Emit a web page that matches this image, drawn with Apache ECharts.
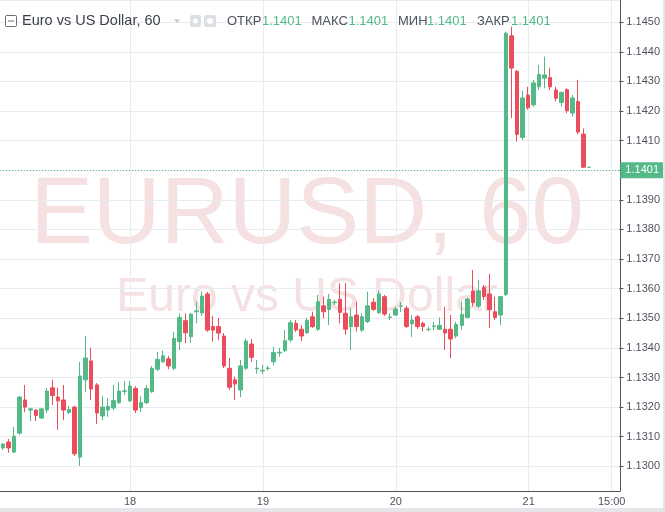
<!DOCTYPE html>
<html>
<head>
<meta charset="utf-8">
<script src="https://cdn.jsdelivr.net/npm/echarts@6/dist/echarts.min.js"></script>
<style>
    html, body { margin: 0; padding: 0; background: #e4e6ea; }
    #chart { position: absolute; left: 0; top: 0; width: 663px; height: 508px; background: #fff; }
</style>
</head>
<body>
<div id="chart"></div>
<script>
// hourly bars, first bar = 17 01:00
var openPx = [1.13062, 1.13082, 1.13048, 1.13112, 1.13224, 1.13190, 1.13190, 1.13163, 1.13190, 1.13265,
    1.13234, 1.13224, 1.13182, 1.13200, 1.13031, 1.13292, 1.13356, 1.13275, 1.13170, 1.13190,
    1.13197, 1.13215, 1.13253, 1.13221, 1.13263, 1.13198, 1.13215, 1.13252, 1.13328, 1.13353,
    1.13363, 1.13331, 1.13421, 1.13492, 1.13438, 1.13522, 1.13518, 1.13582, 1.13472, 1.13472,
    1.13440, 1.13331, 1.13292, 1.13258, 1.13331, 1.13413, 1.13329, 1.13322, 1.13330, 1.13353,
    1.13383, 1.13391, 1.13427, 1.13483, 1.13463, 1.13451, 1.13505, 1.13463, 1.13542, 1.13530,
    1.13553, 1.13564, 1.13517, 1.13472, 1.13511, 1.13460, 1.13489, 1.13554, 1.13519, 1.13573,
    1.13503, 1.13511, 1.13541, 1.13534, 1.13481, 1.13505, 1.13483, 1.13462, 1.13472, 1.13463,
    1.13463, 1.13463, 1.13440, 1.13476, 1.13503, 1.13592, 1.13541, 1.13605, 1.13582, 1.13522,
    1.13511, 1.13580, 1.14454, 1.14334, 1.14111, 1.14254, 1.14221, 1.14282, 1.14311, 1.14313,
    1.14271, 1.14229, 1.14272, 1.14193, 1.14232, 1.14122, 1.14010];
var closePx = [1.13075, 1.13062, 1.13102, 1.13234, 1.13200, 1.13194, 1.13172, 1.13194, 1.13254, 1.13239,
    1.13221, 1.13190, 1.13192, 1.13042, 1.13305, 1.13366, 1.13261, 1.13180, 1.13200, 1.13202,
    1.13222, 1.13254, 1.13255, 1.13271, 1.13190, 1.13215, 1.13263, 1.13331, 1.13361, 1.13373,
    1.13339, 1.13432, 1.13503, 1.13451, 1.13514, 1.13525, 1.13575, 1.13460, 1.13460, 1.13450,
    1.13339, 1.13267, 1.13278, 1.13339, 1.13423, 1.13368, 1.13331, 1.13324, 1.13332, 1.13384,
    1.13385, 1.13424, 1.13485, 1.13460, 1.13440, 1.13493, 1.13472, 1.13556, 1.13522, 1.13564,
    1.13555, 1.13520, 1.13463, 1.13505, 1.13472, 1.13505, 1.13542, 1.13530, 1.13582, 1.13514,
    1.13504, 1.13531, 1.13542, 1.13472, 1.13494, 1.13472, 1.13472, 1.13463, 1.13474, 1.13476,
    1.13450, 1.13430, 1.13479, 1.13513, 1.13565, 1.13553, 1.13593, 1.13573, 1.13529, 1.13503,
    1.13573, 1.14463, 1.14345, 1.14121, 1.14244, 1.14211, 1.14295, 1.14323, 1.14322, 1.14282,
    1.14243, 1.14263, 1.14201, 1.14244, 1.14129, 1.14010, 1.14010];
var lowPx = [1.13055, 1.13045, 1.13045, 1.13106, 1.13183, 1.13153, 1.13153, 1.13160, 1.13180, 1.13207,
    1.13123, 1.13156, 1.13177, 1.13035, 1.13001, 1.13251, 1.13224, 1.13143, 1.13156, 1.13167,
    1.13190, 1.13210, 1.13241, 1.13217, 1.13180, 1.13183, 1.13210, 1.13248, 1.13322, 1.13349,
    1.13328, 1.13325, 1.13393, 1.13416, 1.13417, 1.13483, 1.13508, 1.13454, 1.13421, 1.13427,
    1.13332, 1.13258, 1.13224, 1.13233, 1.13325, 1.13353, 1.13312, 1.13312, 1.13323, 1.13341,
    1.13370, 1.13386, 1.13420, 1.13454, 1.13423, 1.13447, 1.13467, 1.13457, 1.13500, 1.13477,
    1.13545, 1.13483, 1.13444, 1.13393, 1.13455, 1.13454, 1.13484, 1.13525, 1.13514, 1.13508,
    1.13494, 1.13508, 1.13521, 1.13467, 1.13437, 1.13464, 1.13455, 1.13455, 1.13460, 1.13460,
    1.13393, 1.13365, 1.13432, 1.13460, 1.13501, 1.13539, 1.13535, 1.13562, 1.13467, 1.13494,
    1.13477, 1.13575, 1.14176, 1.14097, 1.14102, 1.14204, 1.14214, 1.14271, 1.14277, 1.14271,
    1.14232, 1.14215, 1.14193, 1.14181, 1.14122, 1.14008, 1.14010];
var highPx = [1.13079, 1.13092, 1.13133, 1.13236, 1.13275, 1.13197, 1.13192, 1.13197, 1.13265, 1.13292,
    1.13265, 1.13275, 1.13204, 1.13204, 1.13352, 1.13440, 1.13400, 1.13281, 1.13237, 1.13231,
    1.13275, 1.13285, 1.13288, 1.13288, 1.13271, 1.13237, 1.13275, 1.13339, 1.13387, 1.13391,
    1.13373, 1.13455, 1.13517, 1.13517, 1.13518, 1.13556, 1.13590, 1.13589, 1.13508, 1.13501,
    1.13450, 1.13366, 1.13303, 1.13359, 1.13432, 1.13429, 1.13359, 1.13342, 1.13339, 1.13404,
    1.13400, 1.13460, 1.13494, 1.13494, 1.13477, 1.13501, 1.13522, 1.13579, 1.13573, 1.13582,
    1.13562, 1.13618, 1.13619, 1.13534, 1.13556, 1.13517, 1.13590, 1.13568, 1.13593, 1.13579,
    1.13517, 1.13539, 1.13555, 1.13542, 1.13511, 1.13511, 1.13488, 1.13472, 1.13488, 1.13503,
    1.13539, 1.13511, 1.13488, 1.13556, 1.13570, 1.13663, 1.13629, 1.13612, 1.13650, 1.13573,
    1.13575, 1.14468, 1.14485, 1.14339, 1.14268, 1.14282, 1.14305, 1.14356, 1.14384, 1.14346,
    1.14282, 1.14265, 1.14277, 1.14254, 1.14305, 1.14141, 1.14010];

// tick labels on the time axis
var timeTicks = ['18 00:00', '19 00:00', '20 00:00', '21 00:00', '21 15:00'];
var timeTickText = ['18', '19', '20', '21', '15:00'];

// header labels
var ohlcNames = ['ОТКР', 'МАКС', 'МИН', 'ЗАКР'];
var symbolTitle = 'Euro vs US Dollar, 60';
var watermark = ['EURUSD, 60', 'Euro vs US Dollar'];

// hourly categories, 112 slots (some empty to the right)
var hourCats = [];
for (var i = 0; i < 112; i++) {
    var h = i + 1;
    var hh = h % 24;
    hourCats.push((17 + Math.floor(h / 24)) + ' ' + (hh < 10 ? '0' : '') + hh + ':00');
}

var candles = [];
for (var i = 0; i < closePx.length; i++) {
    candles.push([openPx[i], closePx[i], lowPx[i], highPx[i]]);
}
var last = candles[candles.length - 1];
var lastPrice = last[1];

var upColor = '#53b987';
var downColor = '#eb4d5c';
var gridColor = '#e8ecf0';
var axisColor = '#50535e';
var fontName = '"Liberation Sans", Arial, sans-serif';
var wmColor = 'rgba(225, 160, 165, 0.32)';

function isTimeTick(idx, val) {
    return timeTicks.indexOf(val) >= 0;
}

// header: label / value pairs (label x, value x)
var headX = [[227, 262], [311.5, 348.5], [398, 427], [477, 511]];
var headVals = [last[0], last[3], last[2], last[1]];

var graphics = [
    { type: 'text', z: -5, x: 307, y: 217, silent: true,
      style: { text: watermark[0], font: '94px ' + fontName, fill: wmColor, align: 'center', verticalAlign: 'middle' } },
    { type: 'text', z: -5, x: 307, y: 298, silent: true,
      style: { text: watermark[1], font: '48px ' + fontName, fill: wmColor, align: 'center', verticalAlign: 'middle' } },
    // collapse icon
    { type: 'rect', z: 100, shape: { x: 5.5, y: 15.5, width: 11, height: 11, r: 1 },
      style: { fill: '#fff', stroke: '#6a6d78', lineWidth: 1 } },
    { type: 'line', z: 101, shape: { x1: 8, y1: 21, x2: 14, y2: 21 },
      style: { stroke: '#6a6d78', lineWidth: 1 } },
    { type: 'text', z: 100, x: 22, y: 21,
      style: { text: symbolTitle, font: '14.5px ' + fontName, fill: '#3b3f4a', verticalAlign: 'middle' } },
    { type: 'polygon', z: 100, shape: { points: [[174, 19.5], [180, 19.5], [177, 23]] },
      style: { fill: '#c3c6cc' } },
    { type: 'rect', z: 100, shape: { x: 190, y: 15, width: 11, height: 12, r: 2 }, style: { fill: '#dcdfe4' } },
    { type: 'circle', z: 101, shape: { cx: 195.5, cy: 21, r: 2.5 }, style: { fill: '#fff' } },
    { type: 'rect', z: 100, shape: { x: 204, y: 15, width: 12, height: 12, r: 2 }, style: { fill: '#dcdfe4' } },
    { type: 'circle', z: 101, shape: { cx: 210, cy: 21, r: 3 }, style: { fill: '#fff' } }
];
for (var k = 0; k < ohlcNames.length; k++) {
    graphics.push({ type: 'text', z: 100, x: headX[k][0], y: 21,
        style: { text: ohlcNames[k], font: '13px ' + fontName, fill: '#4c525e', verticalAlign: 'middle' } });
    graphics.push({ type: 'text', z: 100, x: headX[k][1], y: 21,
        style: { text: headVals[k].toFixed(4), font: '13px ' + fontName, fill: upColor, verticalAlign: 'middle' } });
}

var myChart = echarts.init(document.getElementById('chart'));
var option = {
    animation: false,
    backgroundColor: '#ffffff',
    grid: [
        { left: 0, right: 43, top: 0, bottom: 41.7 },
        { left: 0, right: 43, top: 0, bottom: 17 }
    ],
    xAxis: [{
        type: 'category',
        gridIndex: 0,
        data: hourCats,
        boundaryGap: true,
        show: false
    }, {
        type: 'category',
        gridIndex: 1,
        data: hourCats,
        boundaryGap: true,
        axisLine: { lineStyle: { color: axisColor, width: 1 } },
        axisTick: { interval: isTimeTick, alignWithLabel: true, length: 4, lineStyle: { color: axisColor } },
        axisLabel: {
            interval: isTimeTick,
            formatter: function(val) { return timeTickText[timeTicks.indexOf(val)]; },
            color: axisColor,
            fontSize: 11,
            fontFamily: fontName,
            margin: 5
        },
        splitLine: { show: true, interval: isTimeTick, alignWithLabel: true, lineStyle: { color: gridColor } }
    }],
    yAxis: [{
        type: 'value',
        gridIndex: 0,
        position: 'right',
        min: 1.1300,
        max: 1.14575,
        interval: 0.001,
        axisLine: { show: false },
        axisTick: { show: true, length: 4, lineStyle: { color: axisColor } },
        axisLabel: {
            formatter: function(v) { return v.toFixed(4); },
            color: axisColor,
            fontSize: 11,
            fontFamily: fontName,
            margin: 7,
            showMaxLabel: false
        },
        splitLine: { lineStyle: { color: gridColor } }
    }, {
        type: 'value',
        gridIndex: 1,
        position: 'right',
        min: 0,
        max: 1,
        axisLine: { show: true, lineStyle: { color: axisColor, width: 1 } },
        axisTick: { show: false },
        axisLabel: { show: false },
        splitLine: { show: false }
    }],
    series: [{
        type: 'candlestick',
        xAxisIndex: 0,
        yAxisIndex: 0,
        data: candles,
        barWidth: 4,
        clip: false,
        itemStyle: {
            color: upColor,
            color0: downColor,
            borderColor: upColor,
            borderColor0: downColor,
            borderColorDoji: upColor,
            borderWidth: 1
        },
        markLine: {
            silent: true,
            symbol: ['none', 'none'],
            data: [{ yAxis: lastPrice }],
            lineStyle: { color: upColor, type: [1, 2], width: 1 },
            label: {
                show: true,
                position: 'end',
                distance: 1,
                formatter: lastPrice.toFixed(4),
                backgroundColor: upColor,
                color: '#fff',
                fontSize: 11,
                fontFamily: fontName,
                padding: [3, 5, 2, 5]
            }
        }
    }],
    graphic: graphics
};
myChart.setOption(option);
</script>
</body>
</html>
